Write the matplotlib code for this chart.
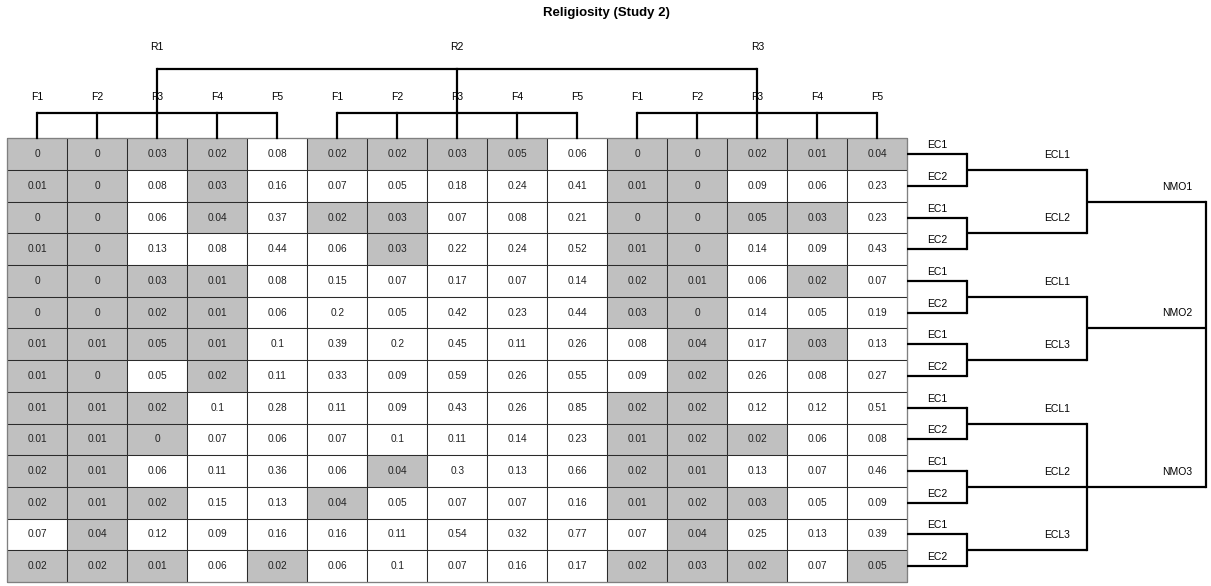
import matplotlib

matplotlib.use("Agg")
import matplotlib.pyplot as plt
from matplotlib.patches import Rectangle

plt.rcParams["font.family"] = ["Liberation Sans", "DejaVu Sans"]

# Column hierarchy: R (religiosity level) > F (factor)
r_labels = ["R1", "R2", "R3"]
f_labels = ["F1", "F2", "F3", "F4", "F5"]

# Row hierarchy: NMO > ECL > EC
nmo_labels = ["NMO1", "NMO2", "NMO3"]
ecl_labels = [["ECL1", "ECL2"], ["ECL1", "ECL3"], ["ECL1", "ECL2", "ECL3"]]
ec_labels = ["EC1", "EC2"]

values = [
    [0, 0, 0.03, 0.02, 0.08, 0.02, 0.02, 0.03, 0.05, 0.06, 0, 0, 0.02, 0.01, 0.04],
    [0.01, 0, 0.08, 0.03, 0.16, 0.07, 0.05, 0.18, 0.24, 0.41, 0.01, 0, 0.09, 0.06, 0.23],
    [0, 0, 0.06, 0.04, 0.37, 0.02, 0.03, 0.07, 0.08, 0.21, 0, 0, 0.05, 0.03, 0.23],
    [0.01, 0, 0.13, 0.08, 0.44, 0.06, 0.03, 0.22, 0.24, 0.52, 0.01, 0, 0.14, 0.09, 0.43],
    [0, 0, 0.03, 0.01, 0.08, 0.15, 0.07, 0.17, 0.07, 0.14, 0.02, 0.01, 0.06, 0.02, 0.07],
    [0, 0, 0.02, 0.01, 0.06, 0.2, 0.05, 0.42, 0.23, 0.44, 0.03, 0, 0.14, 0.05, 0.19],
    [0.01, 0.01, 0.05, 0.01, 0.1, 0.39, 0.2, 0.45, 0.11, 0.26, 0.08, 0.04, 0.17, 0.03, 0.13],
    [0.01, 0, 0.05, 0.02, 0.11, 0.33, 0.09, 0.59, 0.26, 0.55, 0.09, 0.02, 0.26, 0.08, 0.27],
    [0.01, 0.01, 0.02, 0.1, 0.28, 0.11, 0.09, 0.43, 0.26, 0.85, 0.02, 0.02, 0.12, 0.12, 0.51],
    [0.01, 0.01, 0, 0.07, 0.06, 0.07, 0.1, 0.11, 0.14, 0.23, 0.01, 0.02, 0.02, 0.06, 0.08],
    [0.02, 0.01, 0.06, 0.11, 0.36, 0.06, 0.04, 0.3, 0.13, 0.66, 0.02, 0.01, 0.13, 0.07, 0.46],
    [0.02, 0.01, 0.02, 0.15, 0.13, 0.04, 0.05, 0.07, 0.07, 0.16, 0.01, 0.02, 0.03, 0.05, 0.09],
    [0.07, 0.04, 0.12, 0.09, 0.16, 0.16, 0.11, 0.54, 0.32, 0.77, 0.07, 0.04, 0.25, 0.13, 0.39],
    [0.02, 0.02, 0.01, 0.06, 0.02, 0.06, 0.1, 0.07, 0.16, 0.17, 0.02, 0.03, 0.02, 0.07, 0.05],
]

# 1 = highlighted cell
highlight = [
    [1, 1, 1, 1, 0, 1, 1, 1, 1, 0, 1, 1, 1, 1, 1],
    [1, 1, 0, 1, 0, 0, 0, 0, 0, 0, 1, 1, 0, 0, 0],
    [1, 1, 0, 1, 0, 1, 1, 0, 0, 0, 1, 1, 1, 1, 0],
    [1, 1, 0, 0, 0, 0, 1, 0, 0, 0, 1, 1, 0, 0, 0],
    [1, 1, 1, 1, 0, 0, 0, 0, 0, 0, 1, 1, 0, 1, 0],
    [1, 1, 1, 1, 0, 0, 0, 0, 0, 0, 1, 1, 0, 0, 0],
    [1, 1, 1, 1, 0, 0, 0, 0, 0, 0, 0, 1, 0, 1, 0],
    [1, 1, 0, 1, 0, 0, 0, 0, 0, 0, 0, 1, 0, 0, 0],
    [1, 1, 1, 0, 0, 0, 0, 0, 0, 0, 1, 1, 0, 0, 0],
    [1, 1, 1, 0, 0, 0, 0, 0, 0, 0, 1, 1, 1, 0, 0],
    [1, 1, 0, 0, 0, 0, 1, 0, 0, 0, 1, 1, 0, 0, 0],
    [1, 1, 1, 0, 0, 1, 0, 0, 0, 0, 1, 1, 1, 0, 0],
    [0, 1, 0, 0, 0, 0, 0, 0, 0, 0, 0, 1, 0, 0, 0],
    [1, 1, 1, 0, 1, 0, 0, 0, 0, 0, 1, 1, 1, 0, 1],
]

# layout in pixels
W, H = 1211, 586
x0, y0 = 7.3, 138.3
cw = 60.0
rh = (582.0 - y0) / len(values)
x_ec, x_ecl, x_nmo = 967, 1087, 1206
y_f, y_r = 113, 69
lw = 1.6
fs_cell = 7.3
fs_lab = 7.5

fig = plt.figure(figsize=(W / 100, H / 100), dpi=100)
ax = fig.add_axes([0, 0, 1, 1])
ax.set_xlim(0, W)
ax.set_ylim(H, 0)
ax.axis("off")

n_rows, n_cols = len(values), len(values[0])


def col_x(j):
    return x0 + (j + 0.5) * cw


def row_y(i):
    return y0 + (i + 0.5) * rh


# cells
for i in range(n_rows):
    for j in range(n_cols):
        ax.add_patch(Rectangle((x0 + j * cw, y0 + i * rh), cw, rh,
                               facecolor="#c0c0c0" if highlight[i][j] else "white",
                               edgecolor="#2b2b2b", linewidth=0.75))
        ax.text(col_x(j), row_y(i), f"{values[i][j]:g}", ha="center", va="center",
                fontsize=fs_cell, color="#222222")
ax.add_patch(Rectangle((x0, y0), n_cols * cw, n_rows * rh, fill=False,
                       edgecolor="#808080", linewidth=0.9))

# column dendrogram
nf = len(f_labels)
for g, r in enumerate(r_labels):
    cols = [g * nf + k for k in range(nf)]
    ax.plot([col_x(cols[0]), col_x(cols[-1])], [y_f, y_f], color="black", lw=lw,
            solid_capstyle="butt")
    for k, c in enumerate(cols):
        ax.plot([col_x(c), col_x(c)], [y_f, y0], color="black", lw=lw)
        ax.text(col_x(c), 97, f_labels[k], ha="center", va="center", fontsize=fs_lab)
    mid = col_x(cols[nf // 2])
    ax.plot([mid, mid], [y_r, y_f], color="black", lw=lw)
    ax.text(mid, 47, r, ha="center", va="center", fontsize=fs_lab)
ax.plot([col_x(nf // 2), col_x((len(r_labels) - 1) * nf + nf // 2)], [y_r, y_r],
        color="black", lw=lw, solid_capstyle="butt")

# row dendrogram
x_edge = x0 + n_cols * cw
row = 0
nmo_y = []
for n, nmo in enumerate(nmo_labels):
    ecl_y = []
    for ecl in ecl_labels[n]:
        ys = []
        for ec in ec_labels:
            y = row_y(row)
            ax.plot([x_edge, x_ec], [y, y], color="black", lw=lw, solid_capstyle="butt")
            ax.text(937, y - 9, ec, ha="center", va="center", fontsize=fs_lab)
            ys.append(y)
            row += 1
        ax.plot([x_ec, x_ec], [ys[0], ys[-1]], color="black", lw=lw)
        ym = sum(ys) / len(ys)
        ax.plot([x_ec, x_ecl], [ym, ym], color="black", lw=lw, solid_capstyle="butt")
        ax.text(1057, ym - 15, ecl, ha="center", va="center", fontsize=fs_lab)
        ecl_y.append(ym)
    ax.plot([x_ecl, x_ecl], [ecl_y[0], ecl_y[-1]], color="black", lw=lw)
    yn = sum(ecl_y) / len(ecl_y)
    ax.plot([x_ecl, x_nmo], [yn, yn], color="black", lw=lw, solid_capstyle="butt")
    ax.text(1177, yn - 15, nmo, ha="center", va="center", fontsize=fs_lab)
    nmo_y.append(yn)
ax.plot([x_nmo, x_nmo], [nmo_y[0], nmo_y[-1]], color="black", lw=lw)

ax.text(606, 13, "Religiosity (Study 2)", ha="center", va="center",
        fontsize=9.5, fontweight="bold")

fig.savefig("out.png", dpi=100)
plt.close(fig)
